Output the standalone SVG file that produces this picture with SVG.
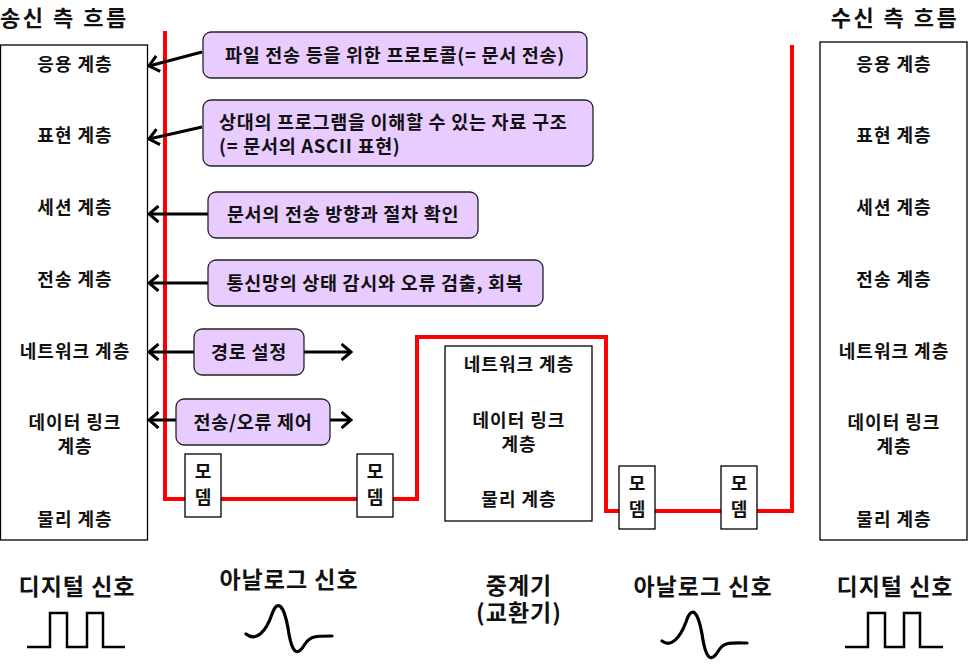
<svg xmlns="http://www.w3.org/2000/svg" width="968" height="664" viewBox="0 0 968 664">
<defs>
<style>
text{font-family:"Noto Sans CJK KR","Noto Sans",sans-serif;font-weight:bold;fill:#111;}
.t{font-size:23px;letter-spacing:1px;}
.h{font-size:22px;letter-spacing:2.5px;}
.l{font-size:18px;letter-spacing:1px;text-anchor:middle;}
.m{font-size:18px;text-anchor:middle;}
.p{font-size:18.5px;letter-spacing:0.7px;}
.c{text-anchor:middle;}
.box{fill:#fff;stroke:#000;stroke-width:1.3;}
.pb{fill:#E9CCFF;stroke:#222;stroke-width:1.3;}
.red{fill:none;stroke:#FF0000;stroke-width:4;}
.ar{stroke:#000;stroke-width:3;fill:none;}
.w{stroke:#000;stroke-width:2.5;fill:none;}
.wa{stroke:#000;stroke-width:3.2;fill:none;stroke-linecap:round;}
</style>
<marker id="ah" viewBox="0 0 12 18" refX="10.5" refY="9" markerWidth="12" markerHeight="18" markerUnits="userSpaceOnUse" orient="auto">
<path d="M1,1 L10.5,9 L1,17" fill="none" stroke="#000" stroke-width="3"/>
</marker>
</defs>

<text class="h" x="0" y="26">송신 측 흐름</text>
<text class="h" x="895" y="26" text-anchor="middle">수신 측 흐름</text>

<g id="sender">
<rect class="box" x="0.5" y="45" width="147" height="495"/>
<text class="l" x="75" y="71">응용 계층</text>
<text class="l" x="75" y="142">표현 계층</text>
<text class="l" x="75" y="214">세션 계층</text>
<text class="l" x="75" y="286">전송 계층</text>
<text class="l" x="75" y="358">네트워크 계층</text>
<text class="l" x="75" y="429">데이터 링크</text>
<text class="l" x="75" y="453">계층</text>
<text class="l" x="75" y="526">물리 계층</text>
</g>

<g id="receiver">
<rect class="box" x="820" y="42" width="147" height="498"/>
<text class="l" x="894" y="71">응용 계층</text>
<text class="l" x="894" y="142">표현 계층</text>
<text class="l" x="894" y="214">세션 계층</text>
<text class="l" x="894" y="286">전송 계층</text>
<text class="l" x="894" y="358">네트워크 계층</text>
<text class="l" x="894" y="429">데이터 링크</text>
<text class="l" x="894" y="453">계층</text>
<text class="l" x="894" y="526">물리 계층</text>
</g>

<g id="connectors">
<path class="red" d="M165,31 V499 H417 V337 H606 V511 H792 V45"/>
<line class="ar" x1="202" y1="52" x2="149" y2="66" marker-end="url(#ah)"/>
<line class="ar" x1="202" y1="127" x2="149" y2="139" marker-end="url(#ah)"/>
<line class="ar" x1="208" y1="214" x2="149" y2="214" marker-end="url(#ah)"/>
<line class="ar" x1="208" y1="283" x2="149" y2="283" marker-end="url(#ah)"/>
<line class="ar" x1="194" y1="352" x2="149" y2="352" marker-end="url(#ah)"/>
<line class="ar" x1="304" y1="352" x2="351" y2="352" marker-end="url(#ah)"/>
<line class="ar" x1="176" y1="420" x2="149" y2="420" marker-end="url(#ah)"/>
<line class="ar" x1="330" y1="420" x2="351" y2="420" marker-end="url(#ah)"/>
</g>

<g id="note1">
<rect class="pb" x="203" y="32" width="384" height="46" rx="8"/>
<text class="p c" x="395" y="62">파일 전송 등을 위한 프로토콜(= 문서 전송)</text>
</g>
<g id="note2">
<rect class="pb" x="203" y="100" width="390" height="66" rx="8"/>
<text class="p" x="219" y="129">상대의 프로그램을 이해할 수 있는 자료 구조</text>
<text class="p" x="219" y="153">(= 문서의 ASCII 표현)</text>
</g>
<g id="note3">
<rect class="pb" x="208" y="192" width="270" height="46" rx="8"/>
<text class="p c" x="343" y="221">문서의 전송 방향과 절차 확인</text>
</g>
<g id="note4">
<rect class="pb" x="208" y="260" width="335" height="46" rx="8"/>
<text class="p c" x="375" y="290">통신망의 상태 감시와 오류 검출, 회복</text>
</g>
<g id="note5">
<rect class="pb" x="194" y="329" width="110" height="46" rx="8"/>
<text class="p c" x="249" y="359">경로 설정</text>
</g>
<g id="note6">
<rect class="pb" x="176" y="399" width="154" height="46" rx="8"/>
<text class="p c" x="253" y="429">전송/오류 제어</text>
</g>

<g id="modem1">
<rect class="box" x="185" y="454" width="36" height="63"/>
<text class="m" x="203" y="478">모</text>
<text class="m" x="203" y="504">뎀</text>
</g>
<g id="modem2">
<rect class="box" x="357" y="454" width="36" height="63"/>
<text class="m" x="375" y="478">모</text>
<text class="m" x="375" y="504">뎀</text>
</g>
<g id="modem3">
<rect class="box" x="619" y="466" width="36" height="63"/>
<text class="m" x="637" y="490">모</text>
<text class="m" x="637" y="516">뎀</text>
</g>
<g id="modem4">
<rect class="box" x="721" y="466" width="36" height="63"/>
<text class="m" x="739" y="490">모</text>
<text class="m" x="739" y="516">뎀</text>
</g>

<g id="relay">
<rect class="box" x="445" y="346" width="147" height="175"/>
<text class="l" x="519" y="371">네트워크 계층</text>
<text class="l" x="519" y="427">데이터 링크</text>
<text class="l" x="519" y="451">계층</text>
<text class="l" x="519" y="506">물리 계층</text>
</g>

<g id="legend">
<text class="t c" x="77" y="595">디지털 신호</text>
<path class="w" d="M27,647 H50 V613 H67 V647 H87 V613 H103 V647 H125"/>
<text class="t c" x="289" y="588">아날로그 신호</text>
<path class="wa" d="M246,634 C256,642 266,632 272,614 C278,598 284,606 288,628 C292,656 298,656 305,644 C310,636 316,636 332,636"/>
<text class="t c" x="519" y="594"><tspan x="519" y="594">중계기</tspan><tspan x="519" y="621">(교환기)</tspan></text>
<text class="t c" x="703" y="595">아날로그 신호</text>
<path class="wa" d="M662,641 C671,648 680,638 686,622 C692,604 698,612 702,634 C706,662 712,662 719,650 C724,642 730,643 747,643"/>
<text class="t c" x="895" y="595">디지털 신호</text>
<path class="w" d="M845,647 H868 V613 H885 V647 H904 V613 H920 V647 H943"/>
</g>
</svg>
